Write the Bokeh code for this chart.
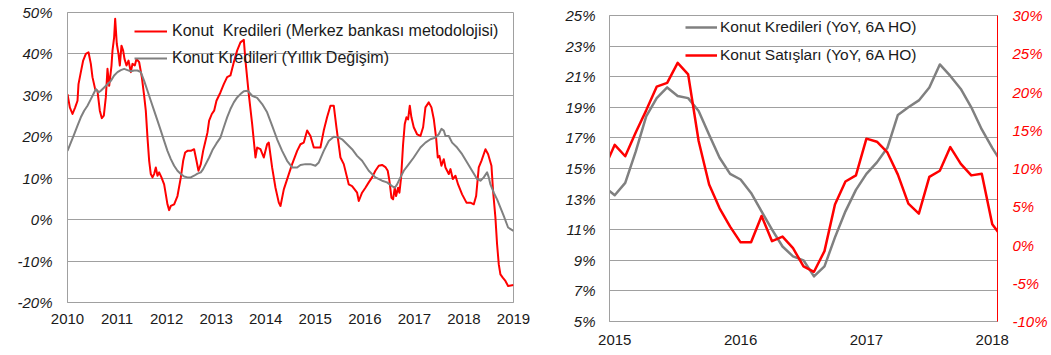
from bokeh.plotting import figure
from bokeh.layouts import row
from bokeh.models import (Range1d, LinearAxis, FixedTicker, PrintfTickFormatter,
                          Legend, LegendItem)
from bokeh.embed import file_html
from bokeh.resources import INLINE

FONT = "Liberation Sans"
TXT = "#1a1a1a"
GRID = "#a0a0a0"
RED = "#ff0000"
GRAY = "#808080"

# ---------------- left chart data (weekly-ish readings, decimal years, %)
mb_dates = [
    2010.000, 2010.047, 2010.101, 2010.155, 2010.202, 2010.222, 2010.269, 2010.316, 2010.370, 2010.424,
    2010.471, 2010.504, 2010.558, 2010.605, 2010.652, 2010.693, 2010.733, 2010.773, 2010.807, 2010.841,
    2010.888, 2010.908, 2010.941, 2010.962, 2010.995, 2011.029, 2011.056, 2011.089, 2011.123, 2011.150,
    2011.190, 2011.231, 2011.278, 2011.311, 2011.358, 2011.392, 2011.446, 2011.500, 2011.547, 2011.580,
    2011.614, 2011.648, 2011.681, 2011.715, 2011.748, 2011.782, 2011.816, 2011.849, 2011.896, 2011.950,
    2011.984, 2012.017, 2012.051, 2012.085, 2012.152, 2012.219, 2012.287, 2012.334, 2012.374, 2012.421,
    2012.488, 2012.555, 2012.603, 2012.643, 2012.690, 2012.737, 2012.777, 2012.824, 2012.858, 2012.912,
    2012.959, 2013.006, 2013.086, 2013.154, 2013.221, 2013.288, 2013.356, 2013.423, 2013.490, 2013.558,
    2013.591, 2013.658, 2013.726, 2013.793, 2013.827, 2013.894, 2013.961, 2014.028, 2014.062, 2014.129,
    2014.197, 2014.264, 2014.298, 2014.365, 2014.466, 2014.533, 2014.634, 2014.701, 2014.768, 2014.836,
    2014.903, 2014.970, 2015.104, 2015.171, 2015.238, 2015.306, 2015.373, 2015.427, 2015.508, 2015.575,
    2015.676, 2015.743, 2015.844, 2015.878, 2015.944, 2016.012, 2016.079, 2016.146, 2016.213, 2016.281,
    2016.348, 2016.415, 2016.462, 2016.496, 2016.537, 2016.570, 2016.604, 2016.631, 2016.671, 2016.698,
    2016.732, 2016.772, 2016.806, 2016.840, 2016.873, 2016.907, 2016.940, 2016.987, 2017.054, 2017.122,
    2017.176, 2017.223, 2017.290, 2017.344, 2017.391, 2017.438, 2017.472, 2017.505, 2017.546, 2017.593,
    2017.627, 2017.694, 2017.728, 2017.775, 2017.829, 2017.882, 2017.963, 2018.051, 2018.131, 2018.199,
    2018.246, 2018.299, 2018.353, 2018.434, 2018.488, 2018.555, 2018.588, 2018.635, 2018.669, 2018.703,
    2018.736, 2018.783, 2018.837, 2018.891, 2019.000,
]
mb_values = [
    30.3, 27.1, 25.5, 27.1, 28.7, 32.7, 35.6, 38.4, 40.0, 40.4,
    37.6, 34.4, 31.5, 31.1, 26.3, 24.5, 25.1, 29.5, 36.4, 32.3,
    37.2, 40.8, 44.0, 48.5, 42.4, 40.0, 37.2, 42.0, 40.8, 38.8,
    37.2, 38.4, 35.6, 37.6, 37.2, 38.8, 38.0, 34.4, 29.9, 26.3,
    19.8, 14.2, 11.0, 10.2, 11.0, 12.6, 10.6, 11.4, 10.2, 8.5,
    6.1, 3.7, 2.3, 3.3, 3.7, 5.7, 10.2, 14.2, 16.2, 16.6,
    16.6, 17.0, 14.2, 11.8, 13.4, 16.6, 18.6, 21.0, 23.9, 25.5,
    26.3, 28.7, 30.7, 32.7, 34.4, 34.8, 38.0, 40.8, 42.8, 43.4,
    38.4, 30.3, 23.1, 15.0, 17.4, 17.0, 15.0, 18.2, 18.6, 12.6,
    7.7, 4.1, 3.3, 7.3, 11.0, 13.4, 16.6, 18.2, 18.6, 21.5,
    20.2, 17.4, 17.4, 21.5, 24.7, 27.5, 27.5, 22.3, 15.0, 13.4,
    8.5, 8.1, 6.5, 4.5, 6.5, 7.7, 9.0, 10.2, 11.8, 13.0,
    13.2, 12.7, 11.8, 9.4, 5.3, 4.9, 7.7, 5.7, 7.7, 6.5,
    10.2, 18.2, 23.1, 24.7, 24.2, 27.5, 24.7, 22.3, 20.6, 20.2,
    22.3, 27.1, 28.3, 27.1, 24.3, 19.8, 15.0, 15.4, 13.0, 14.6,
    12.6, 11.0, 12.2, 9.8, 10.6, 8.5, 6.1, 4.1, 4.1, 3.7,
    5.7, 12.6, 14.2, 17.0, 15.8, 13.0, 6.9, 0.5, -6.0, -10.8,
    -13.2, -14.0, -14.8, -16.0, -15.8,
]

yoy_dates = [
    2010.000, 2010.067, 2010.134, 2010.202, 2010.269, 2010.336, 2010.403, 2010.471, 2010.538, 2010.572,
    2010.625, 2010.672, 2010.740, 2010.807, 2010.874, 2010.941, 2011.009, 2011.076, 2011.143, 2011.210,
    2011.278, 2011.345, 2011.412, 2011.479, 2011.547, 2011.614, 2011.681, 2011.748, 2011.816, 2011.883,
    2011.950, 2012.017, 2012.085, 2012.152, 2012.219, 2012.287, 2012.354, 2012.421, 2012.488, 2012.555,
    2012.623, 2012.690, 2012.737, 2012.858, 2012.925, 2013.006, 2013.086, 2013.154, 2013.221, 2013.288,
    2013.356, 2013.423, 2013.490, 2013.558, 2013.638, 2013.726, 2013.827, 2013.928, 2014.028, 2014.129,
    2014.230, 2014.331, 2014.432, 2014.533, 2014.634, 2014.701, 2014.802, 2014.903, 2015.003, 2015.071,
    2015.171, 2015.272, 2015.373, 2015.474, 2015.541, 2015.642, 2015.743, 2015.844, 2015.945, 2016.079,
    2016.213, 2016.348, 2016.448, 2016.550, 2016.604, 2016.651, 2016.718, 2016.786, 2016.887, 2016.987,
    2017.054, 2017.122, 2017.223, 2017.324, 2017.425, 2017.492, 2017.546, 2017.593, 2017.627, 2017.694,
    2017.761, 2017.862, 2017.963, 2018.064, 2018.164, 2018.265, 2018.333, 2018.400, 2018.467, 2018.501,
    2018.535, 2018.602, 2018.669, 2018.736, 2018.803, 2018.891, 2019.000,
]
yoy_values = [
    16.6, 18.6, 20.6, 22.7, 24.7, 26.3, 27.5, 29.1, 30.7, 31.5,
    30.7, 31.1, 31.9, 32.7, 33.5, 34.8, 35.6, 36.1, 36.4, 36.1,
    35.8, 36.0, 36.0, 35.6, 33.5, 31.1, 28.7, 26.3, 23.9, 21.5,
    19.0, 16.6, 14.6, 13.0, 11.8, 11.0, 10.4, 10.2, 10.2, 10.6,
    11.1, 11.4, 12.2, 15.0, 16.8, 18.4, 19.8, 22.3, 24.7, 26.7,
    28.3, 29.5, 30.3, 31.0, 31.1, 29.9, 29.4, 27.9, 25.9, 22.7,
    19.4, 16.6, 14.2, 12.6, 12.6, 13.2, 13.4, 13.4, 13.0, 13.8,
    16.6, 19.0, 20.0, 19.8, 19.4, 18.2, 17.0, 15.4, 14.2, 11.8,
    10.2, 9.4, 9.0, 8.1, 7.7, 8.5, 10.2, 11.8, 13.4, 15.0,
    16.2, 17.4, 18.6, 19.4, 19.8, 20.6, 21.9, 21.5, 20.2, 20.2,
    18.6, 17.4, 15.8, 13.8, 11.8, 9.8, 9.4, 10.2, 11.4, 10.2,
    8.5, 6.5, 4.9, 2.9, 0.9, -1.9, -2.7,
]
left_years = [2010, 2011, 2012, 2013, 2014, 2015, 2016, 2017, 2018, 2019]
left_pct_ticks = [-20, -10, 0, 10, 20, 30, 40, 50]

# ---------------- right chart data (monthly, %)
months = [
    "2014-12",
    "2015-01", "2015-02", "2015-03", "2015-04", "2015-05", "2015-06",
    "2015-07", "2015-08", "2015-09", "2015-10", "2015-11", "2015-12",
    "2016-01", "2016-02", "2016-03", "2016-04", "2016-05", "2016-06",
    "2016-07", "2016-08", "2016-09", "2016-10", "2016-11", "2016-12",
    "2017-01", "2017-02", "2017-03", "2017-04", "2017-05", "2017-06",
    "2017-07", "2017-08", "2017-09", "2017-10", "2017-11", "2017-12",
    "2018-01", "2018-02",
]
credit_6m = [
    13.8,
    13.25, 14.06, 16.1, 18.4, 19.6, 20.3, 19.74, 19.6, 18.76, 17.2, 15.7, 14.65,
    14.28, 13.4, 12.2, 11.0, 9.9, 9.26, 9.0, 7.95, 8.6, 10.5, 12.2, 13.6,
    14.65, 15.4, 16.35, 18.5, 19.0, 19.45, 20.3, 21.8, 21.05, 20.2, 19.0, 17.55,
    16.35, 15.26,
]
sales_6m = [
    10.0,
    13.1, 11.6, 14.7, 17.6, 20.7, 21.2, 23.8, 22.3, 13.6, 7.9, 4.8, 2.4,
    0.35, 0.35, 3.8, 0.5, 1.1, -0.4, -2.8, -3.5, -0.8, 5.3, 8.3, 9.1,
    13.9, 13.5, 12.1, 9.2, 5.4, 4.1, 8.9, 9.7, 12.8, 10.6, 9.1, 9.3,
    2.7, 0.9,
]
right_years = [2015, 2016, 2017, 2018]
right_left_ticks = [5, 7, 9, 11, 13, 15, 17, 19, 21, 23, 25]
right_right_ticks = [-10, -5, 0, 5, 10, 15, 20, 25, 30]

month_x = [int(m[:4]) + (int(m[5:]) - 1) / 12 for m in months]


def style_axis(ax, italic=False, color=TXT, line_color=GRID, standoff=12):
    ax.axis_label = None
    ax.axis_line_color = line_color
    ax.axis_line_width = 1
    ax.major_tick_out = 0
    ax.major_tick_in = 0
    ax.minor_tick_out = 0
    ax.minor_tick_in = 0
    ax.major_label_text_font = FONT
    ax.major_label_text_font_size = "15px"
    ax.major_label_text_color = color
    ax.major_label_standoff = standoff
    if italic:
        ax.major_label_text_font_style = "italic"


def style_legend(lg, size, standoff, spacing, glyph_w):
    lg.padding = 0
    lg.margin = 0
    lg.spacing = spacing
    lg.glyph_width = glyph_w
    lg.glyph_height = 20
    lg.label_height = 20
    lg.label_standoff = standoff
    lg.label_text_font = FONT
    lg.label_text_font_size = size
    lg.label_text_color = TXT
    lg.background_fill_alpha = 0
    lg.border_line_alpha = 0


# ================= LEFT FIGURE (page x 0..532)
p1 = figure(width=532, height=354, x_range=Range1d(2010, 2019), y_range=Range1d(-20, 50),
            output_backend="svg", toolbar_location=None,
            min_border_left=67, min_border_right=19, min_border_top=12, min_border_bottom=52)
p1.frame_align = False
p1.outline_line_color = GRID
p1.outline_line_width = 1
p1.xgrid.visible = False
p1.ygrid.grid_line_color = GRID
p1.ygrid.grid_line_width = 1
p1.ygrid.ticker = FixedTicker(ticks=left_pct_ticks)

r_mb = p1.line(mb_dates, mb_values, line_color=RED, line_width=2, line_join="round")
r_yoy = p1.line(yoy_dates, yoy_values, line_color=GRAY, line_width=2, line_join="round")

p1.xaxis.ticker = FixedTicker(ticks=left_years)
p1.xaxis.formatter = PrintfTickFormatter(format="%d")
p1.yaxis.ticker = FixedTicker(ticks=left_pct_ticks)
p1.yaxis.formatter = PrintfTickFormatter(format="%d%%")
style_axis(p1.xaxis[0], standoff=11)
style_axis(p1.yaxis[0], italic=True, standoff=15)

leg1 = Legend(items=[
    LegendItem(label="Konut  Kredileri (Merkez bankası metodolojisi)", renderers=[r_mb]),
    LegendItem(label="Konut Kredileri (Yıllık Değişim)", renderers=[r_yoy]),
], location=(67, 234))
style_legend(leg1, "16px", 5, 7, 33)
p1.add_layout(leg1)

# ================= RIGHT FIGURE (page x 532..1050)
p2 = figure(width=518, height=354, x_range=Range1d(2015 - 1 / 24, 2018 + 1 / 24),
            y_range=Range1d(5, 25), output_backend="svg", toolbar_location=None,
            min_border_left=77, min_border_right=52, min_border_top=15, min_border_bottom=33)
p2.frame_align = False
p2.extra_y_ranges = {"sales": Range1d(-10, 30)}
p2.outline_line_color = GRID
p2.outline_line_width = 1
p2.xgrid.visible = False
p2.ygrid.grid_line_color = GRID
p2.ygrid.grid_line_width = 1
p2.ygrid.ticker = FixedTicker(ticks=right_left_ticks)

r_credit = p2.line(month_x, credit_6m, line_color=GRAY, line_width=2.5, line_join="round")
r_sales = p2.line(month_x, sales_6m, line_color=RED, line_width=2.5, line_join="round",
                  y_range_name="sales")

p2.xaxis.ticker = FixedTicker(ticks=right_years)
p2.xaxis.formatter = PrintfTickFormatter(format="%d")
p2.yaxis.ticker = FixedTicker(ticks=right_left_ticks)
p2.yaxis.formatter = PrintfTickFormatter(format="%d%%")
style_axis(p2.xaxis[0], standoff=13)
style_axis(p2.yaxis[0], italic=True, standoff=14)

ax_r = LinearAxis(y_range_name="sales", ticker=FixedTicker(ticks=right_right_ticks),
                  formatter=PrintfTickFormatter(format="%d%%"))
style_axis(ax_r, italic=True, color=RED, line_color=RED, standoff=15)
p2.add_layout(ax_r, "right")

leg2 = Legend(items=[
    LegendItem(label="Konut Kredileri (YoY, 6A HO)", renderers=[r_credit]),
    LegendItem(label="Konut Satışları (YoY, 6A HO)", renderers=[r_sales]),
], location=(76, 256))
style_legend(leg2, "15.5px", 3, 8, 32)
p2.add_layout(leg2)

layout = row(p1, p2)
open("out.html", "w").write(file_html(layout, INLINE))
